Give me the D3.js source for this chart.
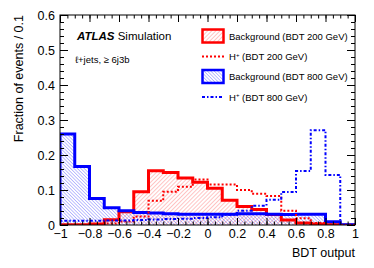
<!DOCTYPE html>
<html>
<head>
<meta charset="utf-8">
<script src="https://cdn.jsdelivr.net/npm/d3@7"></script>
<style>
  body { margin: 0; background: #fff; }
  svg { display: block; font-family: "Liberation Sans", Arial, Helvetica, sans-serif; }
</style>
</head>
<body>
<svg id="chart" width="374" height="268"></svg>
<script>
// bin low edges (bin width 0.1)
const binLow = [-1, -0.9, -0.8, -0.7, -0.6, -0.5, -0.4, -0.3, -0.2, -0.1,
                0, 0.1, 0.2, 0.3, 0.4, 0.5, 0.6, 0.7, 0.8, 0.9];
const binW = 0.1;

// series
const bkg200 = [0.001, 0.001, 0.003, 0.015, 0.038, 0.095, 0.155, 0.150, 0.134, 0.122,
                0.105, 0.071, 0.053, 0.044, 0.030, 0.014, 0.006, 0.003, 0.001, 0.0];
const sig200 = [0.0, 0.0, 0.001, 0.004, 0.010, 0.024, 0.069, 0.095, 0.109, 0.130,
                0.116, 0.116, 0.100, 0.089, 0.083, 0.041, 0.019, 0.006, 0.002, 0.0];
const bkg800 = [0.260, 0.167, 0.076, 0.049, 0.041, 0.036, 0.034, 0.032, 0.031, 0.031,
                0.031, 0.031, 0.032, 0.032, 0.031, 0.030, 0.031, 0.031, 0.009, 0.001];
const sig800 = [0.012, 0.012, 0.012, 0.013, 0.013, 0.014, 0.016, 0.017, 0.018, 0.020,
                0.022, 0.029, 0.041, 0.055, 0.072, 0.094, 0.154, 0.271, 0.143, 0.0];

// tick labels
const xTicks = [-1, -0.8, -0.6, -0.4, -0.2, 0, 0.2, 0.4, 0.6, 0.8, 1];
const yTicks = [0, 0.1, 0.2, 0.3, 0.4, 0.5, 0.6];

const legendLabels = ["Background (BDT 200 GeV)", "H", "Background (BDT 800 GeV)", "H"];
const legendSuffix = ["", " (BDT 200 GeV)", "", " (BDT 800 GeV)"];

// layout
const pLeft = 60, pRight = 355, pTop = 15, pBottom = 225;

const svg = d3.select("#chart");

const x = d3.scaleLinear().domain([-1, 1]).range([pLeft, pRight]);
const y = d3.scaleLinear().domain([0, 0.6]).range([pBottom, pTop]);

// hatch patterns
const defs = svg.append("defs");
function hatch(id, color, angle, gap, op) {
  defs.append("pattern")
    .attr("id", id)
    .attr("patternUnits", "userSpaceOnUse")
    .attr("width", gap).attr("height", gap)
    .attr("patternTransform", "rotate(" + angle + ")")
    .append("line")
      .attr("x1", 0).attr("y1", 0).attr("x2", 0).attr("y2", gap)
      .attr("stroke", color).attr("stroke-width", 0.9)
      .attr("stroke-opacity", op);
}
hatch("hRed", "#ff0000", 45, 2.9, 0.5);
hatch("hBlue", "#0000ff", -45, 2.4, 0.55);

defs.append("clipPath").attr("id", "plotClip")
  .append("rect")
    .attr("x", pLeft).attr("y", pTop)
    .attr("width", pRight - pLeft).attr("height", pBottom - pTop);

// histogram step points
function steps(vals) {
  const pts = [[binLow[0], 0]];
  vals.forEach((v, i) => {
    pts.push([binLow[i], v]);
    pts.push([binLow[i] + binW, v]);
  });
  pts.push([binLow[binLow.length - 1] + binW, 0]);
  return pts;
}

const line = d3.line().x(d => x(d[0])).y(d => y(d[1]));
const area = d3.area().x(d => x(d[0])).y0(y(0)).y1(d => y(d[1]));

const plot = svg.append("g").attr("clip-path", "url(#plotClip)");

plot.append("path").attr("d", area(steps(bkg200))).attr("fill", "url(#hRed)");
plot.append("path").attr("d", area(steps(bkg800))).attr("fill", "url(#hBlue)");

plot.append("path").attr("d", line(steps(bkg200)))
  .attr("fill", "none").attr("stroke", "#ff0000").attr("stroke-width", 3);
plot.append("path").attr("d", line(steps(bkg800)))
  .attr("fill", "none").attr("stroke", "#0000ff").attr("stroke-width", 3);

plot.append("path").attr("d", line(steps(sig200)))
  .attr("fill", "none").attr("stroke", "#ff0000").attr("stroke-width", 2)
  .attr("stroke-dasharray", "2,2");
plot.append("path").attr("d", line(steps(sig800)))
  .attr("fill", "none").attr("stroke", "#0000ff").attr("stroke-width", 2)
  .attr("stroke-dasharray", "3,2,1.5,2");

// frame
svg.append("rect")
  .attr("x", pLeft).attr("y", pTop)
  .attr("width", pRight - pLeft).attr("height", pBottom - pTop)
  .attr("fill", "none").attr("stroke", "#000").attr("stroke-width", 1);

// axes (ticks pointing inwards, mirrored on top/right)
const xMinor = d3.range(-1, 1.0001, 0.05);
const yMinor = d3.range(0, 0.6001, 0.02);
const fmt = d3.format("~g");

function styleAxis(g) {
  g.select(".domain").remove();
  g.selectAll("line").attr("stroke", "#000");
  g.selectAll("text").attr("fill", "#000").attr("font-size", 12.5);
}

svg.append("g").attr("transform", "translate(0," + pBottom + ")")
  .call(d3.axisBottom(x).tickValues(xTicks).tickFormat(fmt).tickSize(-7).tickPadding(4))
  .call(styleAxis);
svg.append("g").attr("transform", "translate(0," + pBottom + ")")
  .call(d3.axisBottom(x).tickValues(xMinor).tickFormat("").tickSize(-3.5))
  .call(styleAxis);
svg.append("g").attr("transform", "translate(0," + pTop + ")")
  .call(d3.axisTop(x).tickValues(xTicks).tickFormat("").tickSize(-7))
  .call(styleAxis);
svg.append("g").attr("transform", "translate(0," + pTop + ")")
  .call(d3.axisTop(x).tickValues(xMinor).tickFormat("").tickSize(-3.5))
  .call(styleAxis);

svg.append("g").attr("transform", "translate(" + pLeft + ",0)")
  .call(d3.axisLeft(y).tickValues(yTicks).tickFormat(fmt).tickSize(-8).tickPadding(5))
  .call(styleAxis);
svg.append("g").attr("transform", "translate(" + pLeft + ",0)")
  .call(d3.axisLeft(y).tickValues(yMinor).tickFormat("").tickSize(-4))
  .call(styleAxis);
svg.append("g").attr("transform", "translate(" + pRight + ",0)")
  .call(d3.axisRight(y).tickValues(yTicks).tickFormat("").tickSize(-8))
  .call(styleAxis);
svg.append("g").attr("transform", "translate(" + pRight + ",0)")
  .call(d3.axisRight(y).tickValues(yMinor).tickFormat("").tickSize(-4))
  .call(styleAxis);

// axis titles
svg.append("text")
  .attr("x", pRight).attr("y", 257)
  .attr("text-anchor", "end").attr("font-size", 12.5)
  .text("BDT output");
svg.append("text")
  .attr("transform", "translate(23," + pTop + ") rotate(-90)")
  .attr("text-anchor", "end").attr("font-size", 12.5)
  .text("Fraction of events / 0.1");

// ATLAS label
const atl = svg.append("text").attr("x", 77).attr("y", 39.5).attr("font-size", 11.5);
atl.append("tspan").attr("font-weight", "bold").attr("font-style", "italic").text("ATLAS");
atl.append("tspan").text(" Simulation");
svg.append("text").attr("x", 75).attr("y", 63).attr("font-size", 9.5)
  .text("\u2113+jets, \u2265 6j3b");

// legend
const legY = [36, 56.5, 76.5, 97];
const legColor = ["#ff0000", "#ff0000", "#0000ff", "#0000ff"];
const leg = svg.append("g");
legY.forEach((ly, i) => {
  if (i % 2 === 0) {
    leg.append("rect")
      .attr("x", 202.5).attr("y", ly - 6.5).attr("width", 21).attr("height", 13)
      .attr("fill", i === 0 ? "url(#hRed)" : "url(#hBlue)")
      .attr("stroke", legColor[i]).attr("stroke-width", 2.5);
  } else {
    leg.append("line")
      .attr("x1", 202).attr("x2", 224).attr("y1", ly).attr("y2", ly)
      .attr("stroke", legColor[i]).attr("stroke-width", 2)
      .attr("stroke-dasharray", i === 1 ? "2,2" : "3,2,1.5,2");
  }
  const t = leg.append("text").attr("x", 229).attr("y", ly + 3.5).attr("font-size", 9.5);
  t.append("tspan").text(legendLabels[i]);
  if (i % 2 === 1) {
    t.append("tspan").attr("font-size", 6).attr("dy", -3.5).text("+");
    t.append("tspan").attr("dy", 3.5).text(legendSuffix[i]);
  }
});
</script>
</body>
</html>
